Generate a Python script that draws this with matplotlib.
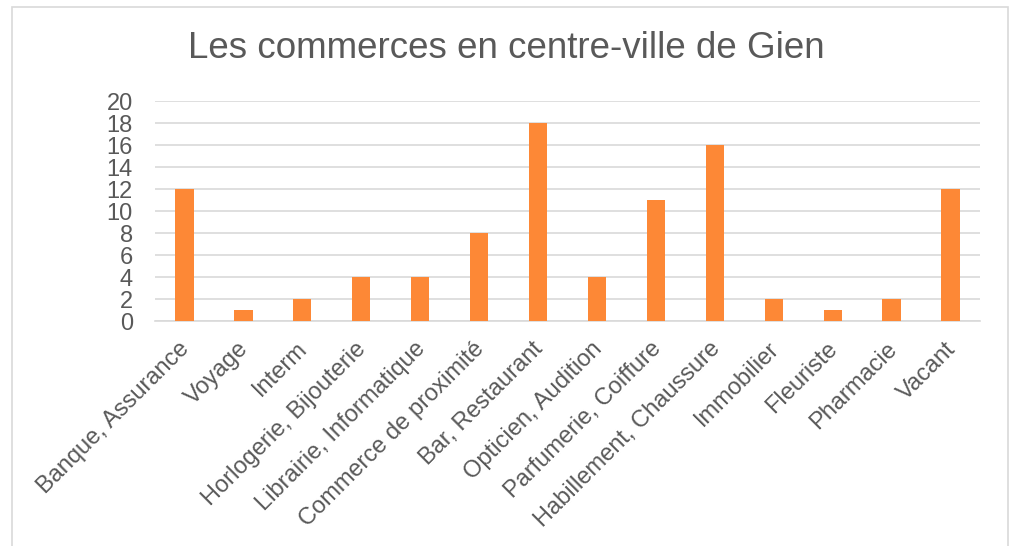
import matplotlib.pyplot as plt
from matplotlib.patches import Rectangle
from matplotlib.transforms import ScaledTranslation

categories = ["Banque, Assurance", "Voyage", "Interm", "Horlogerie, Bijouterie",
              "Librairie, Informatique", "Commerce de proximité", "Bar, Restaurant",
              "Opticien, Audition", "Parfumerie, Coiffure", "Habillement, Chaussure",
              "Immobilier", "Fleuriste", "Pharmacie", "Vacant"]
values = [12, 1, 2, 4, 4, 8, 18, 4, 11, 16, 2, 1, 2, 12]

plt.rcParams['font.family'] = ['Liberation Sans', 'DejaVu Sans']
text_col = "#595959"
grid_col = "#d9d9d9"

fig = plt.figure(figsize=(10.12, 5.46), dpi=100)
fig.patches.append(Rectangle((12 / 1012, -0.05), 996 / 1012, 1.05 - 7 / 546,
                             transform=fig.transFigure, fill=False,
                             edgecolor=grid_col, linewidth=1.2))

ax = fig.add_axes([155 / 1012, 1 - 321 / 546, 825 / 1012, 220 / 546])
x = range(len(categories))
ax.bar(x, values, width=0.31, color="#fd8836", zorder=3)

ax.set_xlim(-0.5, len(categories) - 0.5)
ax.set_ylim(0, 20)
ax.set_yticks(range(0, 21, 2))
ax.grid(axis="y", color=grid_col, linewidth=1.2, zorder=0)
for s in ["top", "right", "left"]:
    ax.spines[s].set_visible(False)
ax.spines["bottom"].set_color(grid_col)
ax.spines["bottom"].set_linewidth(1.2)
ax.tick_params(length=0, colors=text_col, labelsize=17)
ax.tick_params(axis="y", pad=16)
ax.tick_params(axis="x", pad=12)
ax.set_xticks(list(x))
ax.set_xticklabels(categories, rotation=45, ha="right", rotation_mode="anchor")

# nudge the slanted labels a little to the left
shift = ScaledTranslation(-6 / 100, 0, fig.dpi_scale_trans)
for lab in ax.get_xticklabels():
    lab.set_transform(lab.get_transform() + shift)

fig.text(0.5, 1 - 48 / 546, "Les commerces en centre-ville de Gien",
         ha="center", va="center", fontsize=26.5, color=text_col)

fig.savefig("out.png")
